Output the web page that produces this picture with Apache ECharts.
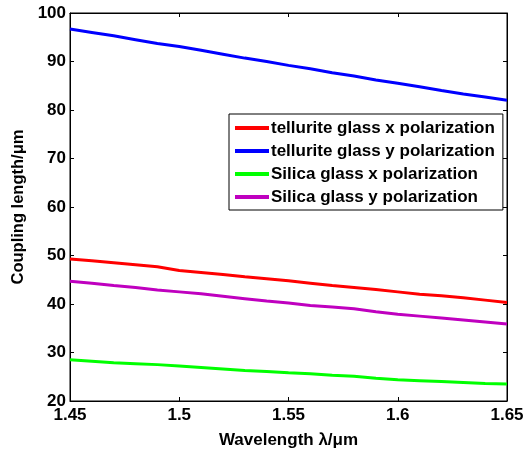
<!DOCTYPE html>
<html>
<head>
<meta charset="utf-8">
<script src="https://cdn.jsdelivr.net/npm/echarts@6/dist/echarts.min.js"></script>
<style>html,body{margin:0;padding:0;background:#fff;}#c{width:527px;height:454px;}</style>
</head>
<body>
<div id="c"></div>
<script>
const wavelength = [1.45,1.46,1.47,1.48,1.49,1.50,1.51,1.52,1.53,1.54,1.55,1.56,1.57,1.58,1.59,1.60,1.61,1.62,1.63,1.64,1.65];
const telluriteX = [49.3,48.9,48.5,48.1,47.7,46.9,46.5,46.1,45.6,45.2,44.8,44.3,43.8,43.4,43.0,42.5,42.0,41.7,41.3,40.8,40.3];
const telluriteY = [96.7,96.0,95.3,94.5,93.7,93.1,92.3,91.5,90.7,90.0,89.2,88.5,87.7,87.0,86.2,85.5,84.8,84.0,83.3,82.7,82.0];
const silicaX = [28.5,28.2,27.9,27.7,27.5,27.2,26.9,26.6,26.3,26.1,25.8,25.6,25.3,25.1,24.7,24.4,24.2,24.0,23.8,23.6,23.5];
const silicaY = [44.7,44.3,43.8,43.4,42.9,42.5,42.1,41.6,41.1,40.6,40.2,39.7,39.4,39.0,38.4,37.9,37.5,37.1,36.7,36.3,35.9];
const seriesNames = ['tellurite glass x polarization','tellurite glass y polarization','Silica glass x polarization','Silica glass y polarization'];
const seriesColors = ['#ff0000','#0000ff','#00ff00','#bf00bf'];
const seriesData = [telluriteX, telluriteY, silicaX, silicaY];

const chart = echarts.init(document.getElementById('c'));
const font = 'Liberation Sans, Arial, sans-serif';
const tickStyle = {show:true, inside:true, length:4, lineStyle:{color:'#000', width:1}};
chart.setOption({
  animation:false,
  backgroundColor:'#fff',
  grid:{left:70, right:20, top:13, bottom:48, show:true, borderColor:'#000', borderWidth:1, backgroundColor:'transparent'},
  legend:{
    orient:'vertical', left:229, top:114, icon:'rect', itemWidth:34, itemHeight:4,
    itemGap:5, padding:[5,8,4,6], borderColor:'#000', borderWidth:1, backgroundColor:'#fff',
    textStyle:{fontFamily:font, fontWeight:'bold', fontSize:17, color:'#000', lineHeight:18, padding:[0,0,0,-3]},
    data: seriesNames
  },
  xAxis:[{
    type:'value', min:1.45, max:1.65, interval:0.05,
    name:'Wavelength λ/μm', nameLocation:'middle', nameGap:31,
    nameTextStyle:{fontFamily:font, fontWeight:'bold', fontSize:17, color:'#000'},
    axisLine:{show:true, lineStyle:{color:'#000'}}, axisTick:tickStyle,
    axisLabel:{fontFamily:font, fontWeight:'bold', fontSize:17, color:'#000', margin:6, formatter:v=>String(+v.toFixed(2))},
    splitLine:{show:false}
  },{
    type:'value', position:'top', min:1.45, max:1.65, interval:0.05,
    axisLine:{show:true, lineStyle:{color:'#000'}}, axisTick:tickStyle, axisLabel:{show:false}, splitLine:{show:false}
  }],
  yAxis:[{
    type:'value', min:20, max:100, interval:10,
    name:'Coupling length/μm', nameLocation:'middle', nameGap:43,
    nameTextStyle:{fontFamily:font, fontWeight:'bold', fontSize:16.5, color:'#000'},
    axisLine:{show:true, lineStyle:{color:'#000'}}, axisTick:tickStyle,
    axisLabel:{fontFamily:font, fontWeight:'bold', fontSize:17, color:'#000', margin:4},
    splitLine:{show:false}
  },{
    type:'value', position:'right', min:20, max:100, interval:10,
    axisLine:{show:true, lineStyle:{color:'#000'}}, axisTick:tickStyle, axisLabel:{show:false}, splitLine:{show:false}
  }],
  series: seriesNames.map((n,i)=>({
    name:n, type:'line', xAxisIndex:0, yAxisIndex:0, showSymbol:false, symbol:'none',
    lineStyle:{color:seriesColors[i], width:3}, itemStyle:{color:seriesColors[i]},
    data: wavelength.map((x,j)=>[x, seriesData[i][j]])
  }))
});
</script>
</body>
</html>
